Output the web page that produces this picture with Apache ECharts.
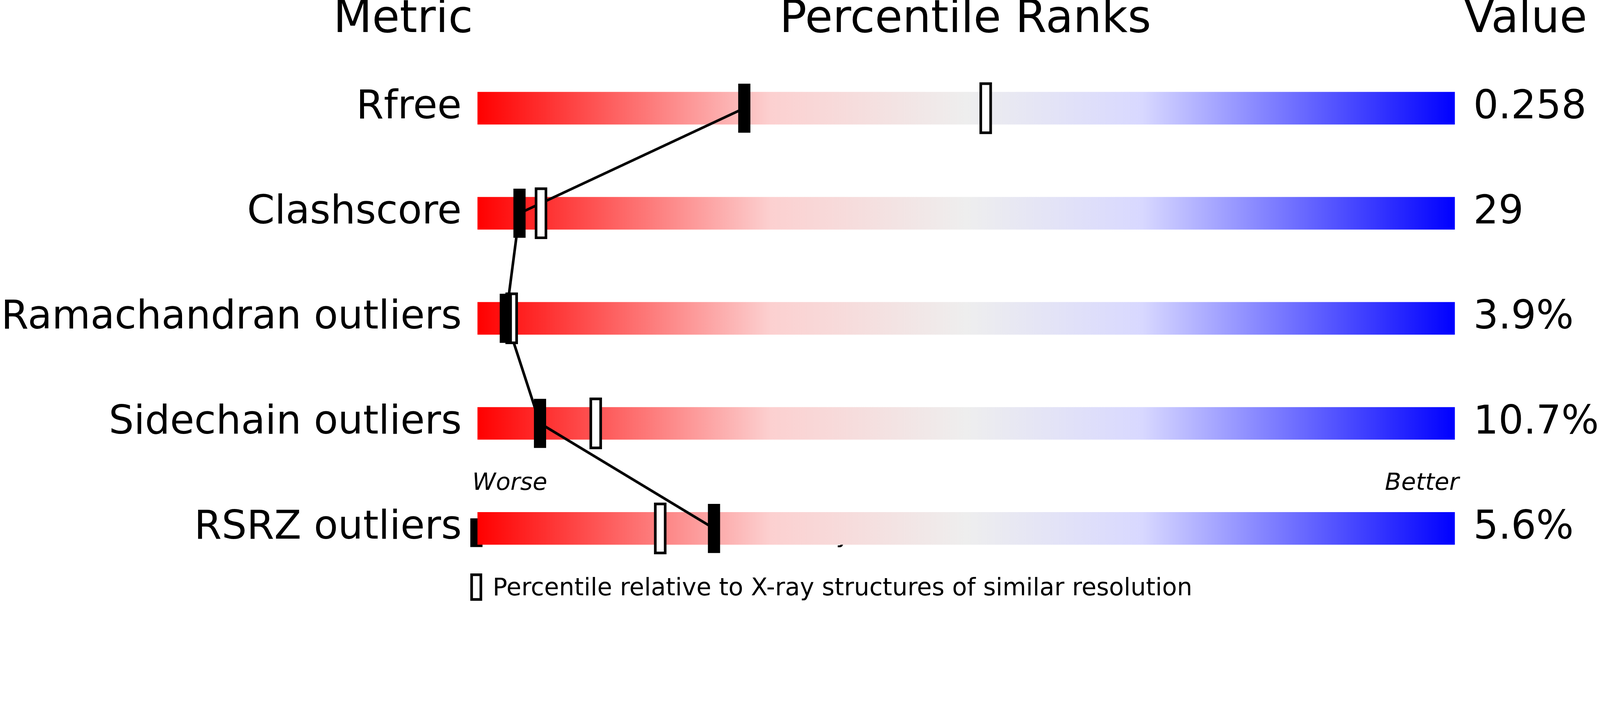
<!DOCTYPE html>
<html><head><meta charset="utf-8">
<script src="https://cdn.jsdelivr.net/npm/echarts@6/dist/echarts.min.js"></script>
<style>html,body{margin:0;padding:0;background:#fff;overflow:hidden}#c{width:100vw;height:100vh}</style>
</head><body><div id="c"></div>
<script>
const metrics = ['Rfree', 'Clashscore', 'Ramachandran outliers', 'Sidechain outliers', 'RSRZ outliers'];
const values = ['0.258', '29', '3.9%', '10.7%', '5.6%'];
const pctAll = [27.3, 4.3, 2.9, 6.4, 24.2];
const pctSimilar = [52.0, 6.5, 3.5, 12.1, 18.7];

const F = 'DejaVu Sans';
// scale everything to the real viewport (layout was measured at 4858 wide)
const s = Math.min(window.innerWidth / 4858, window.innerHeight / 1833);
const chart = echarts.init(document.getElementById('c'));

function marker(filled) {
  return function (params, api) {
    const p = api.coord([api.value(0), api.value(1)]);
    const w = (filled ? 37 : 30) * s, h = 149 * s;
    return {
      type: 'rect',
      shape: { x: p[0] - w / 2, y: p[1] - h / 2, width: w, height: h },
      style: filled ? { fill: '#000' } : { fill: '#fff', stroke: '#000', lineWidth: 8 * s }
    };
  };
}
const font = (sz, it) => (it ? 'italic ' : '') + Math.round(sz * s) + 'px "DejaVu Sans"';

chart.setOption({
  animation: false,
  grid: { left: 1434 * s, right: 428 * s, top: 169 * s, bottom: 410 * s },
  xAxis: { type: 'value', min: 0, max: 100, show: false },
  yAxis: [
    { type: 'category', data: metrics, inverse: true, axisLine: { show: false }, axisTick: { show: false },
      axisLabel: { fontFamily: F, fontSize: 120 * s, color: '#000', margin: 48 * s } },
    { type: 'category', data: values, inverse: true, position: 'right', axisLine: { show: false }, axisTick: { show: false },
      axisLabel: { fontFamily: F, fontSize: 120 * s, color: '#000', margin: 56 * s, align: 'left' } }
  ],
  series: [
    { type: 'bar', data: metrics.map(() => 100), barWidth: 99 * s, silent: true,
      itemStyle: { color: new echarts.graphic.LinearGradient(0, 0, 1, 0, [
        { offset: 0, color: '#ff0000' }, { offset: 0.3, color: '#fcd0d0' },
        { offset: 0.5, color: '#eeeeee' }, { offset: 0.68, color: '#d8d8ff' },
        { offset: 1, color: '#0000ff' }]) } },
    { type: 'line', data: pctAll.map((v, i) => [v, i]), symbol: 'none', z: 3,
      lineStyle: { color: '#000', width: 8 * s } },
    { type: 'custom', data: pctSimilar.map((v, i) => [v, i]), renderItem: marker(false), z: 4 },
    { type: 'custom', data: pctAll.map((v, i) => [v, i]), renderItem: marker(true), z: 5 }
  ],
  graphic: [
    { type: 'text', x: 1224 * s, y: 62 * s, style: { text: 'Metric', font: font(136), align: 'center', verticalAlign: 'middle', fill: '#000' } },
    { type: 'text', x: 2931 * s, y: 62 * s, style: { text: 'Percentile Ranks', font: font(136), align: 'center', verticalAlign: 'middle', fill: '#000' } },
    { type: 'text', x: 4632 * s, y: 62 * s, style: { text: 'Value', font: font(136), align: 'center', verticalAlign: 'middle', fill: '#000' } },
    { type: 'text', x: 1434 * s, y: 1468 * s, style: { text: 'Worse', font: font(72, true), align: 'left', verticalAlign: 'middle', fill: '#000' } },
    { type: 'text', x: 4430 * s, y: 1468 * s, style: { text: 'Better', font: font(72, true), align: 'right', verticalAlign: 'middle', fill: '#000' } },
    { type: 'rect', shape: { x: 1428 * s, y: 1574 * s, width: 37 * s, height: 87 * s }, style: { fill: '#000' } },
    { type: 'text', x: 1496 * s, y: 1627 * s, style: { text: 'Percentile relative to all X-ray structures', font: font(74), verticalAlign: 'middle', fill: '#000' } },
    { type: 'rect', shape: { x: 1432 * s, y: 1745 * s, width: 28 * s, height: 75 * s }, style: { fill: '#fff', stroke: '#000', lineWidth: 8 * s } },
    { type: 'text', x: 1496 * s, y: 1788 * s, style: { text: 'Percentile relative to X-ray structures of similar resolution', font: font(74), verticalAlign: 'middle', fill: '#000' } }
  ]
});
</script></body></html>
